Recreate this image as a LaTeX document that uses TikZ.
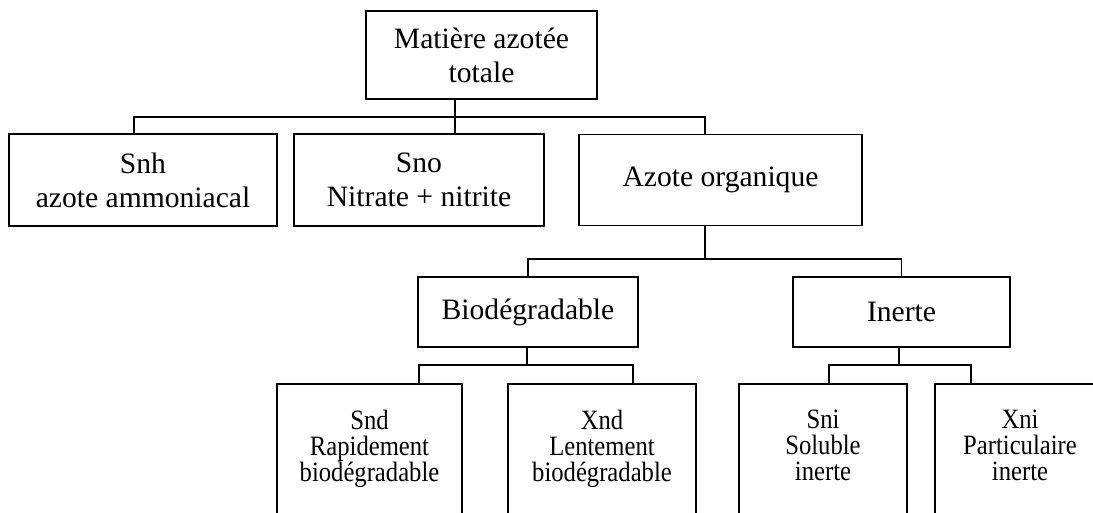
\documentclass[tikz,border=0pt]{standalone}
\usepackage{fontspec}
\setmainfont{Liberation Serif}
\newfontfamily\leaffont[FakeStretch=0.88]{Liberation Serif}
\usetikzlibrary{positioning}

\begin{document}
\begin{tikzpicture}[
    x=0.5pt, y=-0.5pt,
    line width=0.9pt,
    box/.style={draw, align=center, inner sep=0pt,
      font=\fontsize{14.8}{17}\selectfont},
    leafbox/.style={draw, inner sep=0pt, anchor=north, minimum height=90pt},
    leaftext/.style={align=center, inner sep=0pt,
      font=\leaffont\fontsize{14}{13}\selectfont},
  ]
  \useasboundingbox (0,0) rectangle (1093,513);
  \clip (0,0) rectangle (1093,513);
  \fill[white] (0,0) rectangle (1093,513);

  % top and first level
  \node[box, minimum width=115.5pt, minimum height=44pt] (mat) at (481.5,55) {Matière azotée\\totale};
  \node[box, minimum width=134pt, minimum height=46pt] (snh) at (143,180) {Snh\\azote ammoniacal};
  \node[box, minimum width=125pt, minimum height=46pt] (sno) at (419,180) {Sno\\Nitrate + nitrite};
  \node[box, minimum width=141.5pt, minimum height=45.5pt] (azote) at (720.5,180) {Azote organique};

  % second level
  \node[box, minimum width=110pt, minimum height=35pt] (biod) at (528,312) {Biodégradable};
  \node[box, minimum width=108.5pt, minimum height=35pt] (inerte) at (901.5,312) {Inerte};

  % leaves (cut by the border)
  \node[leafbox, minimum width=92.5pt] (snd) at (369.5,383) {};
  \node[leafbox, minimum width=94pt] (xnd) at (602,383) {};
  \node[leafbox, minimum width=84pt] (sni) at (823,383) {};
  \node[leafbox, minimum width=85pt] (xni) at (1020,383) {};
  \node[leaftext, below=13pt of snd.north] (sndtext) {Snd\\Rapidement\\biodégradable};
  \node[leaftext, below=13pt of xnd.north] (xndtext) {Xnd\\Lentement\\biodégradable};
  \node[leaftext, below=13pt of sni.north] (snitext) {Sni\\Soluble\\inerte};
  \node[leaftext, below=13pt of xni.north] (xnitext) {Xni\\Particulaire\\inerte};

  % connectors
  \coordinate (j1) at (455,117);
  \coordinate (j2) at (705,259);
  \coordinate (j3) at (527,365);
  \coordinate (j4) at (899,365);
  \draw (mat.south -| j1) -- (j1) -- (sno.north -| j1);
  \draw ([xshift=-4.5pt]snh.north) |- (j1) -| ([xshift=-7.75pt]azote.north);
  \draw (azote.south -| j2) -- (j2);
  \draw (biod.north) |- (j2) -| (inerte.north);
  \draw (biod.south -| j3) -- (j3);
  \draw (inerte.south -| j4) -- (j4);
  \draw ([xshift=24.75pt]snd.north) |- (j3) -| ([xshift=15.5pt]xnd.north);
  \draw ([xshift=3pt]sni.north) |- (j4) -| ([xshift=-24.5pt]xni.north);
\end{tikzpicture}
\end{document}
